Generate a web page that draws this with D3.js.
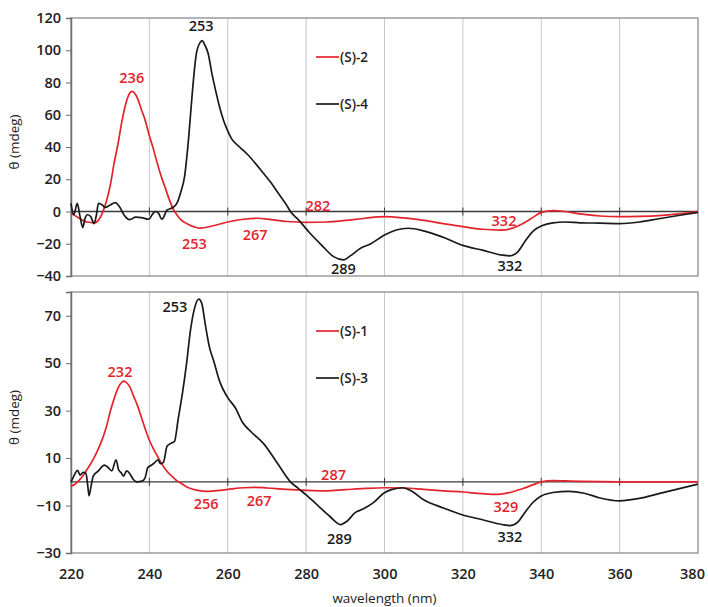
<!DOCTYPE html>
<html>
<head>
<meta charset="utf-8">
<script src="https://cdn.jsdelivr.net/npm/d3@7"></script>
<style>
  body { margin: 0; background: #fff; }
  svg { display: block; font-family: "Open Sans", "Liberation Sans", sans-serif; }
</style>
</head>
<body>
<div id="chart"></div>
<script>
// wavelength (nm) / ellipticity (mdeg)

// top panel, (S)-2 red
var s2Wl  = [220,222,224,226,227,228,229,230,231,232,233,234,235,235.5,236,237,238,239,240,241,242,243,244,245,246,247,248,250,253,256,260,264,267.5,271,275,280,285,290,295,300,305,310,315,320,325,330,333,336,338,340,343,346,350,355,360,365,370,375,380];
var s2Val = [-1,-4,-6.5,-7,-5.5,-1,6,16,30,42,56,67,73.5,74.5,74,70,63,56,47,39,30,22,15,8,2,-2,-5,-8,-10.3,-9,-6.5,-4.8,-4.2,-5,-6.2,-6.7,-6.5,-5.5,-4.2,-3.2,-4,-5.5,-7.5,-9.4,-11,-11.5,-10,-6.5,-3.5,-0.5,0.5,0,-1.5,-2.8,-3.2,-3,-2.5,-1.5,0];

// top panel, (S)-4 black
var s4Wl  = [220,220.7,221.6,222.3,223,223.6,224.2,225,225.9,226.5,227,228,228.7,230,231.3,232.5,233.5,235,236.5,238,239.8,241,241.5,242.3,243.2,244.5,246,247,248,249,250,251,252,253,253.5,254,255,256,257,258,259,260,261,263,265,267,269,271,273,275,276,278,281,284,287,289.5,291,293.9,296.5,300,303,306,310,315,320,325,330,332,334,336,338,340,343,346,350,355,360,365,370,375,380];
var s4Val = [5,-2,5,-3,-10,-4,-2,-3,-7.5,-2,5,4,2.5,4,5.5,2.5,-2,-5,-3.5,-3.8,-4.8,-1,0,-1,-4.8,0.8,2.5,5,12,22,45,75,98,105,106,104,98,85,74,64,56,50,45,40,35.5,30,24,18,11,4,0,-5,-13.5,-21,-28,-30,-28,-22.8,-20,-14.6,-11.5,-10.4,-12,-16,-21,-24,-27,-27.5,-25,-18,-12,-9,-7,-6.5,-7,-7.2,-7.5,-6.5,-4.5,-2.5,-0.5];

// bottom panel, (S)-1 red
var s1Wl  = [220,221,222,223,224,225,226,227,228,229,230,231,232,233,233.5,234,235,236,237,238,239,240,241,242,243,244,245,246,247,248,250,252,255,258,261,264,267,270,275,280,285,290,295,300,305,310,315,320,325,329,332,335,338,340,343,346,350,360,370,380];
var s1Val = [-1.8,-1,0.5,2.5,5,7.5,10.5,14,18,23,29.5,35,39.5,42,42.4,42,40,36,32,27,22,17.5,14,11,8,5.5,3.5,2,0.5,-0.5,-2.5,-3.5,-4,-3.6,-3,-2.5,-2.3,-2.6,-3.2,-3.6,-3.8,-3.3,-2.8,-2.5,-2.6,-3.2,-3.8,-4.3,-5,-5.3,-4.5,-3,-1.2,0,0.5,0.4,0.2,0,0,0];

// bottom panel, (S)-3 black
var s3Wl  = [220,220.6,221.7,222.3,223.1,223.8,224.3,224.6,225.1,225.7,227,228.5,229.5,230.4,231.5,232.1,232.8,233.4,234.2,235.1,235.9,236.8,238.1,238.9,239.6,240.5,241.3,242.2,242.8,243.6,244.5,245.6,246.4,247.4,248.5,249.5,250.5,251.5,252.6,253.4,254.3,255.3,256.4,258,259.8,262,263.8,266,269.2,272.6,276,278,280,283,286,288.8,290.5,292.5,294.5,297,300,302,304.6,307,310,315,320,325,330,332,334,336,338,340,343,347,351,355,360,365,370,375,380];
var s3Val = [0,2,4.8,2.8,4,3.6,-2,-5.9,-2,2.5,4.6,7,6,4.6,9.3,5.3,3.8,2.4,4.6,3.2,1,0,0.3,1.7,6,7,8,9.3,7.7,8.2,15,16.3,17,27,38,50,64,73,77,75,66,57,51,42,36,31,25,21,16,8,0,-2.8,-5.5,-10,-14.5,-18,-16.5,-13,-11.5,-9,-4.6,-3.2,-2.5,-4,-7.6,-11,-14,-16,-18,-18.5,-17,-12.5,-8.5,-6,-4.5,-4,-4.8,-6.8,-8,-7,-5,-3,-1];

var xTicks = [220,240,260,280,300,320,340,360,380];
var topTicks = [-40,-20,0,20,40,60,80,100,120];
var botTicks = [-30,-10,10,30,50,70];

// peak labels: [text, x nm, y value, colour]
var topNotes = [["253",253.2,112,"k"],["236",235.5,80,"r"],["253",251.5,-23,"r"],["267",267,-17.5,"r"],["282",283,0.3,"r"],["289",289.5,-39,"k"],["332",330.5,-9,"r"],["332",332,-37,"k"]];
var botNotes = [["253",246.5,71.5,"k"],["232",232.5,44,"r"],["256",254.5,-11.5,"r"],["267",268,-10.2,"r"],["287",287,0.8,"r"],["289",288.5,-26,"k"],["329",331,-12.7,"r"],["332",332,-25.5,"k"]];

var RED = "#e3232c", BLACK = "#1a1a1a";
var W = 708, H = 607;
var left = 71, right = 698;
var FONT = "'Open Sans', sans-serif";

var svg = d3.select("#chart").append("svg").attr("width", W).attr("height", H);

var x = d3.scaleLinear().domain([220, 380]).range([left, right]);

function panel(yDomain, yRange, ticks, series, notes, legendNames, legendY, showX) {
    var y = d3.scaleLinear().domain(yDomain).range(yRange);
    var g = svg.append("g");
    var top = yRange[1], bot = yRange[0];

    // vertical grid
    g.selectAll("line.grid").data(xTicks.slice(1, -1)).enter().append("line")
        .attr("x1", function (d) { return x(d); }).attr("x2", function (d) { return x(d); })
        .attr("y1", top).attr("y2", bot)
        .style("stroke", "#c8c8c8").style("stroke-width", "1px");

    // frame
    g.append("rect").attr("x", left).attr("y", top)
        .attr("width", right - left).attr("height", bot - top)
        .style("fill", "none").style("stroke", "#8c8c8c").style("stroke-width", "1.3px");

    // y axis
    var yAxis = d3.axisLeft(y).tickValues(ticks).tickSize(5).tickPadding(5);
    var ya = g.append("g").attr("class", "y axis")
        .attr("transform", "translate(" + left + ",0)").call(yAxis);
    ya.select(".domain").style("stroke", "#6e6e6e").style("stroke-width", "1.5px");
    ya.selectAll(".tick line").style("stroke", "#6e6e6e");
    ya.selectAll("text").style("font-size", "14.5px").style("fill", "#222")
        .style("font-weight", "600").style("font-family", FONT);

    // zero line with crossing ticks
    g.append("line").attr("x1", left).attr("x2", right)
        .attr("y1", y(0)).attr("y2", y(0))
        .style("stroke", "#3a3a3a").style("stroke-width", "1.3px");
    g.selectAll("line.zt").data(xTicks.slice(1, -1)).enter().append("line")
        .attr("x1", function (d) { return x(d); }).attr("x2", function (d) { return x(d); })
        .attr("y1", y(0) - 4).attr("y2", y(0) + 4)
        .style("stroke", "#3a3a3a").style("stroke-width", "1px");

    if (showX) {
        var xAxis = d3.axisBottom(x).tickValues(xTicks).tickSize(0).tickPadding(16);
        var xa = g.append("g").attr("transform", "translate(0," + bot + ")").call(xAxis);
        xa.select(".domain").remove();
        xa.selectAll("text").style("font-size", "14.5px").style("fill", "#222")
            .style("font-weight", "600").style("font-family", FONT);
        xa.selectAll(".tick").filter(function (d) { return d === 380; })
            .select("text").attr("dx", "-6");
    }

    // y title
    g.append("text")
        .attr("transform", "rotate(-90)")
        .attr("x", -(top + bot) / 2 + 5).attr("y", 19)
        .style("text-anchor", "middle").style("font-size", "13.5px").style("fill", "#222")
        .text("θ (mdeg)");

    var line = d3.line()
        .x(function (d) { return x(d[0]); })
        .y(function (d) { return y(d[1]); })
        .curve(d3.curveMonotoneX);

    series.forEach(function (s) {
        var pts = s.wl.map(function (w, i) { return [w, s.val[i]]; });
        g.append("path").datum(pts)
            .attr("d", line)
            .style("fill", "none").style("stroke", s.color).style("stroke-width", "1.7px")
            .style("stroke-linejoin", "round");
    });

    notes.forEach(function (n) {
        g.append("text").attr("x", x(n[1])).attr("y", y(n[2]))
            .style("text-anchor", "middle").style("font-size", "14.5px")
            .style("font-weight", "600")
            .style("fill", n[3] === "r" ? RED : BLACK)
            .text(n[0]);
    });

    // legend
    legendNames.forEach(function (name, i) {
        var ly = legendY[i];
        g.append("line").attr("x1", 316).attr("x2", 339).attr("y1", ly).attr("y2", ly)
            .style("stroke", i === 0 ? RED : BLACK).style("stroke-width", "1.7px");
        g.append("text").attr("x", 340).attr("y", ly + 5)
            .style("font-size", "13.5px").style("font-weight", "600").style("fill", "#222").text(name);
    });
}

panel([-40, 120], [276, 18], topTicks,
    [{ wl: s2Wl, val: s2Val, color: RED }, { wl: s4Wl, val: s4Val, color: BLACK }],
    topNotes, ["(S)-2", "(S)-4"], [57, 104], false);

panel([-30, 80], [553, 292], botTicks,
    [{ wl: s1Wl, val: s1Val, color: RED }, { wl: s3Wl, val: s3Val, color: BLACK }],
    botNotes, ["(S)-1", "(S)-3"], [331, 378], true);

svg.append("text").attr("x", (left + right) / 2).attr("y", 603)
    .style("text-anchor", "middle").style("font-size", "13.5px").style("fill", "#222")
    .text("wavelength (nm)");
</script>
</body>
</html>
